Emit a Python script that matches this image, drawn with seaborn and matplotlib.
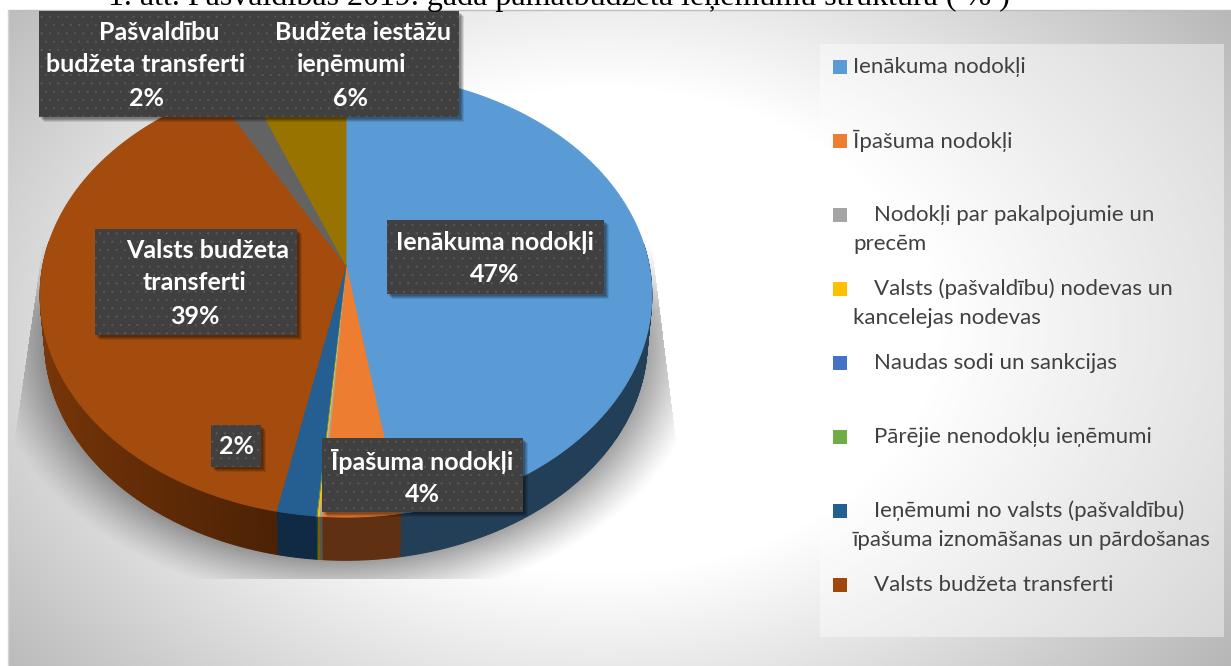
# 3D pie of municipal budget revenue structure, 2019
import numpy as np
import seaborn as sns
import matplotlib
matplotlib.use('Agg')
import matplotlib.pyplot as plt
from matplotlib.patches import Rectangle

# share of each slice in % (clockwise from 12 o'clock)
categories = ['Ienākuma nodokļi', 'Īpašuma nodokļi', 'Nodokļi par pakalpojumie un precēm',
              'Valsts (pašvaldību) nodevas un kancelejas nodevas', 'Naudas sodi un sankcijas',
              'Pārējie nenodokļu ieņēmumi', 'Ieņēmumi no valsts (pašvaldību) īpašuma iznomāšanas un pārdošanas',
              'Valsts budžeta transferti', 'Pašvaldību budžeta transferti', 'Budžeta iestāžu ieņēmumi']
shares = [47.5, 3.6, 0.12, 0.1, 0.02, 0.02, 1.84, 38.8, 2.0, 6.0]

top_colors = ['#5b9bd5', '#ed7d31', '#a5a5a5', '#ffc000', '#4472c4', '#70ad47', '#255e91', '#a34c0e', '#636363', '#997300']
side_colors = ['#233f58', '#5f3012', '#555555', '#7a6000', '#223a62', '#385723', '#0f2a42', '#4c2205', '#333333', '#4c3a00']
legend_colors = ['#5b9bd5', '#ed7d31', '#a5a5a5', '#ffc000', '#4472c4', '#70ad47', '#255e91', '#9e480e']

title = '1. att. Pašvaldības 2019. gada pamatbudžeta ieņēmumu struktūra ( % )'

legend_lines = [['Ienākuma nodokļi'], ['Īpašuma nodokļi'],
                ['Nodokļi par pakalpojumie un', 'precēm'],
                ['Valsts (pašvaldību) nodevas un', 'kancelejas nodevas'],
                ['Naudas sodi un sankcijas'], ['Pārējie nenodokļu ieņēmumi'],
                ['Ieņēmumi no valsts (pašvaldību)', 'īpašuma iznomāšanas un pārdošanas'],
                ['Valsts budžeta transferti']]

# data labels: box (x0, y0, x1, y1) and text lines (text, x centre, y centre)
label_boxes = [
    ((39, 11, 247, 117), [('Pašvaldību', 159, 33), ('budžeta transferti', 146, 65), ('2%', 147, 98)]),
    ((247, 11, 459, 117), [('Budžeta iestāžu', 363, 33), ('ieņēmumi', 352, 65), ('6%', 351, 98)]),
    ((387, 220, 604, 294), [('Ienākuma nodokļi', 495, 242), ('47%', 495, 275)]),
    ((95, 229, 297, 335), [('Valsts budžeta', 208, 251), ('transferti', 195, 283), ('39%', 195, 316)]),
    ((211, 425, 261, 467), [('2%', 236, 447)]),
    ((322, 438, 523, 512), [('Īpašuma nodokļi', 422, 461), ('4%', 422, 494)]),
]

sns.set_theme(style='white')
plt.rcParams['font.family'] = ['Lato', 'DejaVu Sans']
plt.rcParams['hatch.linewidth'] = 0.4
palette = sns.color_palette(top_colors)

W, H = 1231, 666
fig = plt.figure(figsize=(W / 100, H / 100), dpi=100, facecolor='white')
ax = fig.add_axes([0, 0, 1, 1])

# perspective of the pie
cx, cy = 346, 265
R, A, K = 303, 218, 0.135
DEPTH = 47


def project(theta):
    u, v = np.sin(theta), np.cos(theta)
    w = 1 + K * v
    return cx + R * u / w, cy - A * v / w


def project_low(theta):
    x, y = project(theta)
    return cx + (x - cx) * 0.985, cy + (y - cy) * 0.985 + DEPTH


# chart background, radial gradient
yy, xx = np.mgrid[0:H, 0:W]
r = np.hypot(xx - 600, (yy - 330) * 1.4)
grey = 255 - np.clip(r - 340, 0, None) * 0.164
bg = np.dstack([grey, grey, grey]) / 255
ax.imshow(bg, extent=(0, W, H, 0), aspect='auto', zorder=0, interpolation='bilinear')

# soft shadow under the pie, cut off at the plot area
d = np.hypot((xx - cx) / 301, (yy - 342) / 219)
alpha = 0.36 * np.clip((1.2 - d) / 0.2, 0, 1) ** 1.2 * np.clip((yy - 240) / 70, 0, 1)
alpha[yy > 578] = 0
alpha[xx > 652 + (yy - 250) * 21 / 170] = 0
alpha[xx < 30 - (yy - 330) * 13 / 90] = 0
shadow = np.zeros((H, W, 4))
shadow[..., 3] = alpha
ax.imshow(shadow, extent=(0, W, H, 0), aspect='auto', zorder=1)

# white page outside the chart frame
ax.add_patch(Rectangle((0, 0), W, 10, fc='white', ec='none', zorder=2))
ax.add_patch(Rectangle((0, 0), 8, H, fc='white', ec='none', zorder=2))
ax.plot([8, W], [10, 10], color='#bdbdbd', lw=1, zorder=2)
ax.plot([8, 8], [10, H], color='#d4d4d4', lw=1, zorder=2)

# legend panel
ax.add_patch(Rectangle((820, 44), 404, 593, fc='white', ec='none', alpha=0.42, zorder=2))

# slices
edges = np.cumsum([0] + shares) / sum(shares) * 2 * np.pi
for i in range(len(shares)):
    t = np.linspace(edges[i], edges[i + 1], max(int((edges[i + 1] - edges[i]) * 120), 2) + 1)
    base = np.array(matplotlib.colors.to_rgb(side_colors[i]))
    # outer wall, lighter towards the left side; the far half is hidden anyway
    for t0, t1 in zip(t[:-1], t[1:]):
        if np.cos(t0) > 0.1:
            continue
        xa, ya = project(np.array([t0, t1]))
        xb, yb = project_low(np.array([t1, t0]))
        lift = 1 + max(0, -np.sin(t0) - 0.2) * 0.75
        col = np.clip(base * lift, 0, 1)
        ax.fill(np.r_[xa, xb], np.r_[ya, yb], fc=col, ec=col, lw=0.8, zorder=3)
    x, y = project(t)
    ax.fill(np.r_[cx, x], np.r_[cy, y], fc=palette[i], ec=palette[i], lw=0.7, zorder=4)

# data labels
for (x0, y0, x1, y1), lines in label_boxes:
    for off, a in [(5, 0.10), (4, 0.12), (3, 0.15), (2, 0.15)]:
        ax.add_patch(Rectangle((x0 + off, y0 + off), x1 - x0, y1 - y0, fc='black', ec='none', alpha=a, zorder=5))
for (x0, y0, x1, y1), lines in label_boxes:
    ax.add_patch(Rectangle((x0, y0), x1 - x0, y1 - y0, fc='#404040', ec='#595959', hatch='..', lw=0, zorder=6))
    for text, tx, ty in lines:
        ax.text(tx, ty, text, color='white', fontsize=18, fontweight='bold', ha='center', va='center', zorder=7)

# legend
for i, lines in enumerate(legend_lines):
    ypos = 67 + i * 74
    ax.add_patch(Rectangle((833, ypos - 7), 14, 14, fc=legend_colors[i], ec='none', zorder=5))
    first_x = 853 if i < 2 else 874
    ax.text(first_x, ypos, lines[0], color='#404040', fontsize=16, ha='left', va='center', zorder=5)
    if len(lines) > 1:
        ax.text(853, ypos + 28.5, lines[1], color='#404040', fontsize=16, ha='left', va='center', zorder=5)

# caption above the chart, cut by the top of the picture
ax.text(559, 5, title, color='black', fontsize=23, family='Liberation Serif', ha='center', va='baseline', zorder=8)

ax.set_xlim(0, W)
ax.set_ylim(H, 0)
ax.axis('off')
fig.savefig('out.png', dpi=100)
